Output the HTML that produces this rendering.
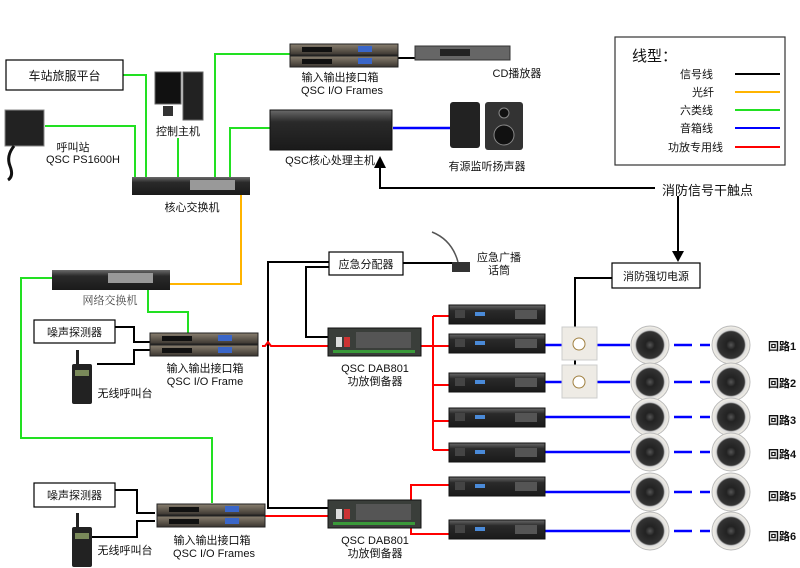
<!DOCTYPE html>
<html><head><meta charset="utf-8"><style>
html,body{margin:0;padding:0;background:#fff;}
svg{display:block;}
text{font-family:"Liberation Sans","Noto Sans CJK SC",sans-serif;font-size:11px;fill:#111;}
</style></head><body>
<svg width="800" height="568" viewBox="0 0 800 568" xmlns="http://www.w3.org/2000/svg">
<defs>
<linearGradient id="dev" x1="0" y1="0" x2="0" y2="1"><stop offset="0" stop-color="#6a6a6a"/><stop offset="0.3" stop-color="#2a2a2a"/><stop offset="1" stop-color="#1a1a1a"/></linearGradient>
<linearGradient id="io" x1="0" y1="0" x2="0" y2="1"><stop offset="0" stop-color="#8a8070"/><stop offset="1" stop-color="#3a3530"/></linearGradient>
<radialGradient id="spk"><stop offset="0" stop-color="#555"/><stop offset="0.25" stop-color="#222"/><stop offset="0.7" stop-color="#333"/><stop offset="0.78" stop-color="#ddd"/><stop offset="1" stop-color="#f4f1e8"/></radialGradient>
<g id="amp"><rect x="0" y="0" width="96" height="19" fill="url(#dev)" stroke="#111"/><rect x="6" y="5" width="10" height="8" fill="#444"/><rect x="26" y="7" width="10" height="4" fill="#4a8ad8"/><rect x="66" y="5" width="22" height="9" fill="#555"/></g>
<g id="ioframe"><rect x="0" y="0" width="108" height="11" fill="url(#io)" stroke="#222"/><rect x="0" y="12" width="108" height="11" fill="url(#io)" stroke="#222"/><rect x="12" y="3" width="30" height="5" fill="#111"/><rect x="12" y="15" width="30" height="5" fill="#111"/><rect x="68" y="2" width="14" height="6" fill="#3a66c8"/><rect x="68" y="14" width="14" height="6" fill="#3a66c8"/></g>
<g id="dab"><rect x="0" y="0" width="93" height="28" fill="#3a3e3a" stroke="#111"/><rect x="8" y="9" width="6" height="10" fill="#ddd"/><rect x="16" y="9" width="6" height="10" fill="#c33"/><rect x="28" y="4" width="55" height="16" fill="#555"/><rect x="5" y="22" width="82" height="3" fill="#3a9a3a"/></g>
<g id="spkr"><circle cx="0" cy="0" r="19" fill="url(#spk)" stroke="#bbb"/></g>
<g id="vol"><rect x="0" y="0" width="35" height="33" fill="#eeebe5" stroke="#ccc"/><circle cx="17" cy="17" r="6" fill="#fff" stroke="#a08040"/></g>
<g id="walkie"><rect x="0" y="14" width="20" height="40" fill="#222" rx="2"/><rect x="4" y="0" width="3" height="16" fill="#222"/><rect x="3" y="20" width="14" height="6" fill="#7a8a5a"/></g>
</defs>

<g stroke="#22e022" stroke-width="2" fill="none">
<polyline points="123,75 146,75 146,177"/>
<polyline points="45,126 135,126 135,177"/>
<polyline points="178,138 178,177"/>
<polyline points="215,177 215,54 290,54"/>
<polyline points="230,177 230,128 270,128"/>
<polyline points="52,278 21,278 21,438 212,438 212,503"/>
<polyline points="148,290 148,312 188,312 188,333"/>
</g>
<polyline points="241,195 241,284 166,284" stroke="#ffb400" stroke-width="2" fill="none"/>
<g stroke="#000" stroke-width="2" fill="none">
<polyline points="390,58 415,58"/>
<polyline points="655,188 380,188 380,166"/>
<polyline points="678,196 678,252"/>
<polyline points="329,262 268,262 268,508 328,508"/>
<polyline points="329,267 306,267 306,337 330,337"/>
<polyline points="403,263 452,263"/>
<polyline points="612,278 575,278 575,327"/>
<polyline points="575,360 575,365"/>
<polyline points="115,327 134,327 134,342 150,342"/>
<polyline points="97,364 134,364 134,350 150,350"/>
<polyline points="115,490 137,490 137,513 155,513"/>
<polyline points="92,537 137,537 137,521 155,521"/>
</g>
<polygon points="380,156 374,168 386,168" fill="#000"/>
<polygon points="678,262 672,251 684,251" fill="#000"/>
<g stroke="#f00" stroke-width="2" fill="none">
<polyline points="262,346 265,346 268,342 271,346 328,346"/>
<polyline points="421,346 433,346"/>
<polyline points="433,316 433,450"/>
<polyline points="433,316 449,316"/><polyline points="433,346 449,346"/><polyline points="433,385 449,385"/><polyline points="433,421 449,421"/><polyline points="433,450 449,450"/>
<polyline points="265,516 328,516"/>
<polyline points="411,500 411,485 449,485"/>
<polyline points="411,528 411,534 449,534"/>
</g>
<g stroke="#0000ff" stroke-width="2.5" fill="none">
<line x1="393" y1="128" x2="450" y2="128"/>
<line x1="545" y1="345" x2="562" y2="345"/><line x1="597" y1="345" x2="630" y2="345"/>
<line x1="545" y1="382" x2="562" y2="382"/><line x1="597" y1="382" x2="630" y2="382"/>
<line x1="545" y1="417" x2="630" y2="417"/>
<line x1="545" y1="452" x2="630" y2="452"/>
<line x1="545" y1="492" x2="630" y2="492"/>
<line x1="545" y1="531" x2="630" y2="531"/>
</g>
<g stroke="#0000ff" stroke-width="2.5">
<line x1="674" y1="345" x2="692" y2="345"/><line x1="700" y1="345" x2="710" y2="345"/>
<line x1="674" y1="382" x2="692" y2="382"/><line x1="700" y1="382" x2="710" y2="382"/>
<line x1="674" y1="417" x2="692" y2="417"/><line x1="700" y1="417" x2="710" y2="417"/>
<line x1="674" y1="452" x2="692" y2="452"/><line x1="700" y1="452" x2="710" y2="452"/>
<line x1="674" y1="492" x2="692" y2="492"/><line x1="700" y1="492" x2="710" y2="492"/>
<line x1="674" y1="531" x2="692" y2="531"/><line x1="700" y1="531" x2="710" y2="531"/>
</g>

<g fill="#fff" stroke="#000" stroke-width="1.2">
<rect x="6" y="60" width="117" height="30"/>
<rect x="329" y="252" width="74" height="23"/>
<rect x="612" y="263" width="88" height="25"/>
<rect x="34" y="320" width="81" height="23"/>
<rect x="34" y="483" width="81" height="24"/>
<rect x="615" y="37" width="170" height="128" stroke="#333"/>
</g>
<text x="64.5" y="80" text-anchor="middle" style="font-size:12px">车站旅服平台</text>
<text x="366" y="268" text-anchor="middle">应急分配器</text>
<text x="656" y="280" text-anchor="middle">消防强切电源</text>
<text x="74.5" y="336" text-anchor="middle">噪声探测器</text>
<text x="74.5" y="499" text-anchor="middle">噪声探测器</text>

<text x="632" y="61" style="font-size:15px">线型：</text>
<text x="680" y="78">信号线</text><line x1="735" y1="74" x2="780" y2="74" stroke="#000" stroke-width="2"/>
<text x="692" y="96">光纤</text><line x1="735" y1="92" x2="780" y2="92" stroke="#ffb400" stroke-width="2"/>
<text x="680" y="114">六类线</text><line x1="735" y1="110" x2="780" y2="110" stroke="#22e022" stroke-width="2"/>
<text x="680" y="132">音箱线</text><line x1="735" y1="128" x2="780" y2="128" stroke="#0000ff" stroke-width="2"/>
<text x="668" y="151">功放专用线</text><line x1="735" y1="147" x2="780" y2="147" stroke="#f00" stroke-width="2"/>

<rect x="5" y="110" width="39" height="36" fill="#222" stroke="#888"/>
<path d="M14,146 q-8,10 -4,20 q4,10 -2,14" stroke="#111" stroke-width="3" fill="none"/>
<rect x="155" y="72" width="26" height="32" fill="#111" stroke="#666"/><rect x="183" y="72" width="20" height="48" fill="#222" stroke="#666"/><rect x="163" y="106" width="10" height="10" fill="#333"/>
<rect x="132" y="177" width="118" height="18" fill="url(#dev)"/><rect x="190" y="180" width="45" height="10" fill="#999"/>
<rect x="52" y="270" width="118" height="20" fill="url(#dev)"/><rect x="108" y="273" width="45" height="10" fill="#999"/>
<use href="#ioframe" x="290" y="44"/>
<rect x="415" y="46" width="95" height="14" fill="#666" stroke="#333"/><rect x="440" y="49" width="30" height="7" fill="#222"/>
<rect x="270" y="110" width="122" height="40" fill="url(#dev)" stroke="#111"/>
<rect x="450" y="102" width="30" height="46" fill="#222" rx="3"/><rect x="485" y="102" width="38" height="48" fill="#333" rx="3"/><circle cx="504" cy="135" r="10" fill="#111" stroke="#888"/><circle cx="504" cy="113" r="5" fill="#111" stroke="#888"/>
<path d="M432,232 q20,8 26,30" stroke="#555" fill="none" stroke-width="1.5"/><rect x="452" y="262" width="18" height="10" fill="#333"/>
<use href="#ioframe" x="150" y="333"/>
<use href="#ioframe" x="157" y="504"/>
<use href="#walkie" x="72" y="350"/>
<use href="#walkie" x="72" y="513"/>
<use href="#dab" x="328" y="328"/>
<use href="#dab" x="328" y="500"/>
<use href="#amp" x="449" y="305"/>
<use href="#amp" x="449" y="334"/>
<use href="#amp" x="449" y="373"/>
<use href="#amp" x="449" y="408"/>
<use href="#amp" x="449" y="443"/>
<use href="#amp" x="449" y="477"/>
<use href="#amp" x="449" y="520"/>
<use href="#vol" x="562" y="327"/>
<use href="#vol" x="562" y="365"/>
<use href="#spkr" x="650" y="345"/><use href="#spkr" x="731" y="345"/>
<use href="#spkr" x="650" y="382"/><use href="#spkr" x="731" y="382"/>
<use href="#spkr" x="650" y="417"/><use href="#spkr" x="731" y="417"/>
<use href="#spkr" x="650" y="452"/><use href="#spkr" x="731" y="452"/>
<use href="#spkr" x="650" y="492"/><use href="#spkr" x="731" y="492"/>
<use href="#spkr" x="650" y="531"/><use href="#spkr" x="731" y="531"/>

<text x="73" y="151" text-anchor="middle">呼叫站</text>
<text x="83" y="163" text-anchor="middle">QSC PS1600H</text>
<text x="178" y="135" text-anchor="middle">控制主机</text>
<text x="192" y="211" text-anchor="middle">核心交换机</text>
<text x="340" y="81" text-anchor="middle">输入输出接口箱</text>
<text x="342" y="94" text-anchor="middle">QSC I/O Frames</text>
<text x="517" y="77" text-anchor="middle">CD播放器</text>
<text x="330" y="164" text-anchor="middle">QSC核心处理主机</text>
<text x="487" y="170" text-anchor="middle">有源监听扬声器</text>
<text x="662" y="195" style="font-size:13px">消防信号干触点</text>
<text x="499" y="261" text-anchor="middle">应急广播</text>
<text x="499" y="274" text-anchor="middle">话筒</text>
<text x="110" y="304" text-anchor="middle" style="font-family:'Liberation Serif','Noto Serif CJK SC',serif;fill:#444">网络交换机</text>
<text x="205" y="372" text-anchor="middle">输入输出接口箱</text>
<text x="205" y="385" text-anchor="middle">QSC I/O Frame</text>
<text x="125" y="397" text-anchor="middle">无线呼叫台</text>
<text x="375" y="372" text-anchor="middle">QSC DAB801</text>
<text x="375" y="385" text-anchor="middle">功放倒备器</text>
<text x="212" y="544" text-anchor="middle">输入输出接口箱</text>
<text x="214" y="557" text-anchor="middle">QSC I/O Frames</text>
<text x="125" y="554" text-anchor="middle">无线呼叫台</text>
<text x="375" y="544" text-anchor="middle">QSC DAB801</text>
<text x="375" y="557" text-anchor="middle">功放倒备器</text>
<g style="font-weight:bold">
<text x="768" y="350">回路1</text><text x="768" y="387">回路2</text><text x="768" y="424">回路3</text>
<text x="768" y="458">回路4</text><text x="768" y="500">回路5</text><text x="768" y="540">回路6</text>
</g>
</svg>
</body></html>
